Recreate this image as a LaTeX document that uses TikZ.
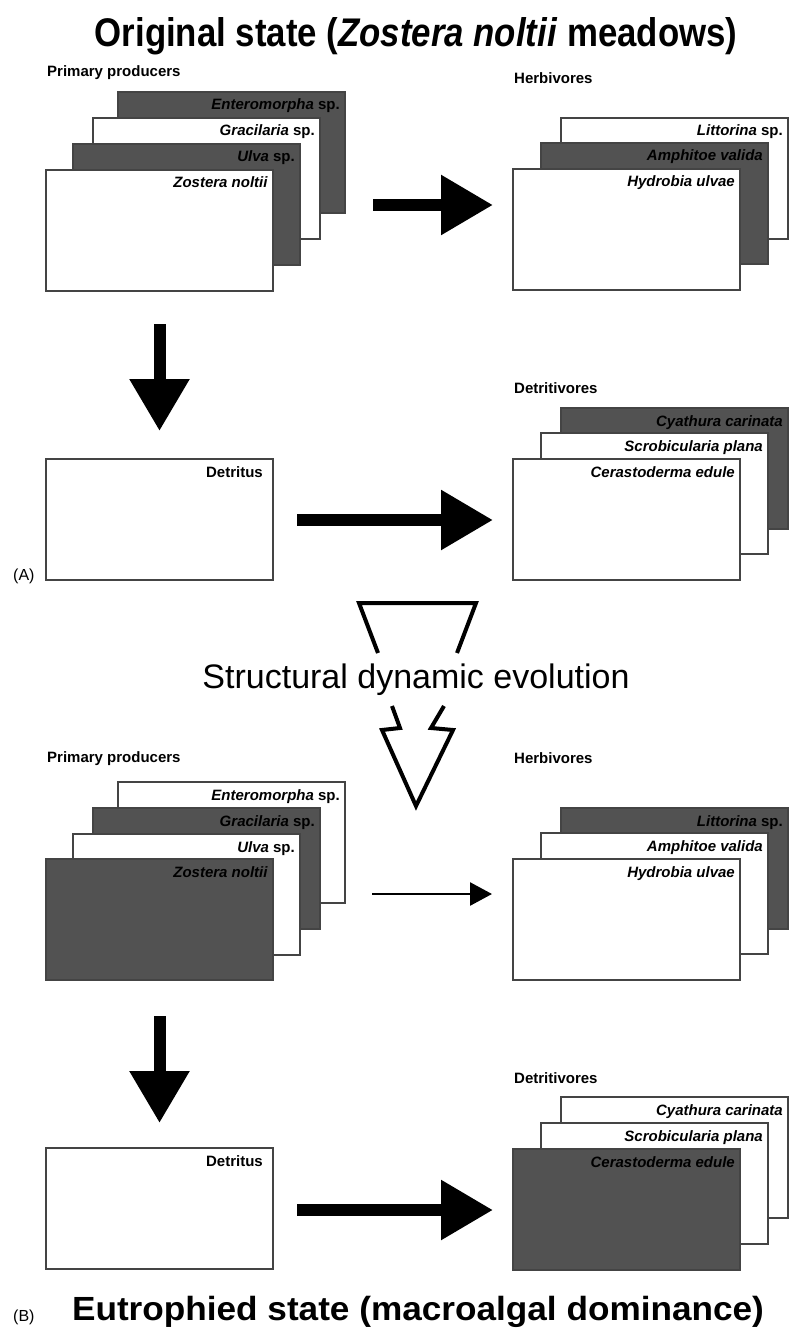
\documentclass[tikz,border=0pt]{standalone}
\usepackage{fontspec}
\setmainfont{Liberation Sans}
\usetikzlibrary{arrows.meta}
\definecolor{dk}{RGB}{82,82,82}
\definecolor{bd}{RGB}{68,68,68}
\begin{document}
\begin{tikzpicture}[x=1pt,y=-1pt,
  box/.style={draw=bd, line width=1.3pt, minimum width=227pt, minimum height=121pt, inner sep=0pt, outer sep=0pt, anchor=north west},
  wbox/.style={box, fill=white},
  dbox/.style={box, fill=dk},
  spec/.style={font=\fontsize{15}{15}\selectfont\bfseries, anchor=base east, inner sep=0pt},
  grp/.style={font=\fontsize{15}{15}\selectfont\bfseries, anchor=base west, inner sep=0pt},
  big/.style={line width=12pt, -{Triangle[width=57pt,length=52pt]}},
  thinarr/.style={line width=2.6pt, -{Triangle[width=23pt,length=22pt]}},
  bolt/.style={line width=4pt, line join=miter, draw=black}
]
\useasboundingbox (0,0) rectangle (790,1329);

% ---------- titles ----------
\node[anchor=base, inner sep=0pt] (t1) at (416,47) {\scalebox{0.87}[1]{\fontsize{40}{40}\selectfont\bfseries Original state (\textit{Zostera noltii} meadows)}};
\node[anchor=base, inner sep=0pt] (t2) at (418,1320) {\scalebox{1.05}[1]{\fontsize{33.5}{33.5}\selectfont\bfseries Eutrophied state (macroalgal dominance)}};
\node[anchor=base west, inner sep=0pt, font=\fontsize{16}{16}\selectfont] (la) at (13,580) {(A)};
\node[anchor=base west, inner sep=0pt, font=\fontsize{16}{16}\selectfont] (lb) at (13,1321) {(B)};

% ---------- (A) primary producers ----------
\node[grp] (pp1) at (47,77) {Primary producers};
\node[dbox] (ent1) at (118,92) {};
\node[spec] (ent1l) at ([xshift=-5pt,yshift=-18pt]ent1.north east) {\textit{Enteromorpha} sp.};
\node[wbox] (gra1) at (93,118) {};
\node[spec] (gra1l) at ([xshift=-5pt,yshift=-18pt]gra1.north east) {\textit{Gracilaria} sp.};
\node[dbox] (ulv1) at (73,144) {};
\node[spec] (ulv1l) at ([xshift=-5pt,yshift=-18pt]ulv1.north east) {\textit{Ulva} sp.};
\node[wbox] (zos1) at (46,170) {};
\node[spec] (zos1l) at ([xshift=-5pt,yshift=-18pt]zos1.north east) {\textit{Zostera noltii}};

% herbivores
\node[grp] (hb1) at (514,84) {Herbivores};
\node[wbox] (lit1) at (561,118) {};
\node[spec] (lit1l) at ([xshift=-5pt,yshift=-18pt]lit1.north east) {\textit{Littorina} sp.};
\node[dbox] (amp1) at (541,143) {};
\node[spec] (amp1l) at ([xshift=-5pt,yshift=-18pt]amp1.north east) {\textit{Amphitoe valida}};
\node[wbox] (hyd1) at (513,169) {};
\node[spec] (hyd1l) at ([xshift=-5pt,yshift=-18pt]hyd1.north east) {\textit{Hydrobia ulvae}};

% detritus
\node[wbox] (det1) at (46,459) {};
\node[spec] (det1l) at ([xshift=-10pt,yshift=-18pt]det1.north east) {Detritus};

% detritivores
\node[grp] (dv1) at (514,393) {Detritivores};
\node[dbox] (cya1) at (561,408) {};
\node[spec] (cya1l) at ([xshift=-5pt,yshift=-18pt]cya1.north east) {\textit{Cyathura carinata}};
\node[wbox] (scr1) at (541,433) {};
\node[spec] (scr1l) at ([xshift=-5pt,yshift=-18pt]scr1.north east) {\textit{Scrobicularia plana}};
\node[wbox] (cer1) at (513,459) {};
\node[spec] (cer1l) at ([xshift=-5pt,yshift=-18pt]cer1.north east) {\textit{Cerastoderma edule}};

% arrows (A)
\coordinate (a1s) at (373,205); \coordinate (a1e) at (493,205);
\draw[big] (a1s) -- (a1e);
\coordinate (a2s) at (159.5,324); \coordinate (a2e) at (159.5,431);
\draw[big] (a2s) -- (a2e);
\coordinate (a3s) at (297,520); \coordinate (a3e) at (493,520);
\draw[big] (a3s) -- (a3e);

% ---------- structural dynamic evolution ----------
\draw[bolt] (378,653) -- (359,603) -- (476,603) -- (457,653);
\node[anchor=base, inner sep=0pt, font=\fontsize{34}{34}\selectfont] (sde) at (416,688) {Structural dynamic evolution};
\draw[bolt] (392,706) -- (400,728) -- (382,730) -- (416,806) -- (453,730) -- (431,728) -- (444,706);

% ---------- (B) primary producers ----------
\node[grp] (pp2) at (47,762) {Primary producers};
\node[wbox] (ent2) at (118,782) {};
\node[spec] (ent2l) at ([xshift=-5pt,yshift=-18pt]ent2.north east) {\textit{Enteromorpha} sp.};
\node[dbox] (gra2) at (93,808) {};
\node[spec] (gra2l) at ([xshift=-5pt,yshift=-18pt]gra2.north east) {\textit{Gracilaria} sp.};
\node[wbox] (ulv2) at (73,834) {};
\node[spec] (ulv2l) at ([xshift=-5pt,yshift=-18pt]ulv2.north east) {\textit{Ulva} sp.};
\node[dbox] (zos2) at (46,859) {};
\node[spec] (zos2l) at ([xshift=-5pt,yshift=-18pt]zos2.north east) {\textit{Zostera noltii}};

% herbivores
\node[grp] (hb2) at (514,763) {Herbivores};
\node[dbox] (lit2) at (561,808) {};
\node[spec] (lit2l) at ([xshift=-5pt,yshift=-18pt]lit2.north east) {\textit{Littorina} sp.};
\node[wbox] (amp2) at (541,833) {};
\node[spec] (amp2l) at ([xshift=-5pt,yshift=-18pt]amp2.north east) {\textit{Amphitoe valida}};
\node[wbox] (hyd2) at (513,859) {};
\node[spec] (hyd2l) at ([xshift=-5pt,yshift=-18pt]hyd2.north east) {\textit{Hydrobia ulvae}};

% detritus
\node[wbox] (det2) at (46,1148) {};
\node[spec] (det2l) at ([xshift=-10pt,yshift=-18pt]det2.north east) {Detritus};

% detritivores
\node[grp] (dv2) at (514,1083) {Detritivores};
\node[wbox] (cya2) at (561,1097) {};
\node[spec] (cya2l) at ([xshift=-5pt,yshift=-18pt]cya2.north east) {\textit{Cyathura carinata}};
\node[wbox] (scr2) at (541,1123) {};
\node[spec] (scr2l) at ([xshift=-5pt,yshift=-18pt]scr2.north east) {\textit{Scrobicularia plana}};
\node[dbox] (cer2) at (513,1149) {};
\node[spec] (cer2l) at ([xshift=-5pt,yshift=-18pt]cer2.north east) {\textit{Cerastoderma edule}};

% arrows (B)
\coordinate (b1s) at (372,894); \coordinate (b1e) at (492,894);
\draw[thinarr] (b1s) -- (b1e);
\coordinate (b2s) at (159.5,1016); \coordinate (b2e) at (159.5,1123);
\draw[big] (b2s) -- (b2e);
\coordinate (b3s) at (297,1210); \coordinate (b3e) at (493,1210);
\draw[big] (b3s) -- (b3e);
\end{tikzpicture}
\end{document}
